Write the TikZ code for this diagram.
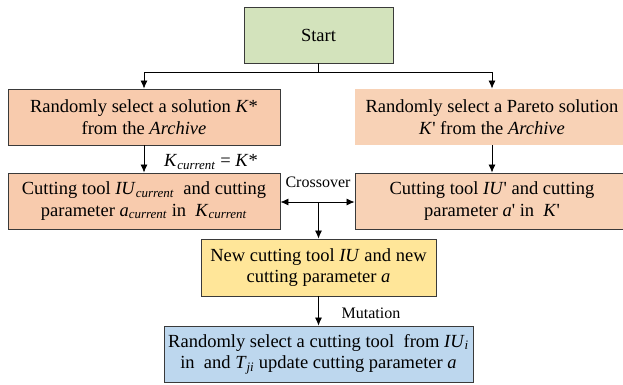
\documentclass[tikz,border=0pt]{standalone}
\usepackage{fontspec}
\setmainfont{Liberation Serif}
\usetikzlibrary{arrows.meta}
\definecolor{cgreen}{HTML}{D3E3BC}
\definecolor{cpeach}{HTML}{F8CBAD}
\definecolor{cpeachlt}{HTML}{F8D2B6}
\definecolor{cyellow}{HTML}{FFE699}
\definecolor{cblue}{HTML}{BDD7EE}
\definecolor{boxline}{HTML}{3A3A3A}
\newcommand{\sub}[1]{\textsubscript{\textit{#1}}}
\newcommand{\prm}{\textquotesingle}
\begin{document}
\begin{tikzpicture}[x=1pt,y=-1pt,
  box/.style={draw=boxline, line width=0.9pt, inner sep=0pt, align=center,
    font=\fontsize{18.5}{21.5}\selectfont},
  lbl/.style={inner sep=0pt, font=\fontsize{16}{18}\selectfont},
  arr/.style={-{Latex[length=8pt,width=7pt]}, line width=0.8pt},
  dblarr/.style={{Latex[length=8pt,width=7pt]}-{Latex[length=8pt,width=7pt]}, line width=0.8pt},
  ln/.style={line width=0.8pt}]
\useasboundingbox (0,0) rectangle (623,385);
\node[box, fill=cgreen, minimum width=149pt, minimum height=56pt] (start) at (318.5,35) {Start};
\node[box, fill=cpeach, minimum width=272pt, minimum height=56pt] (left1) at (144,117)
  {Randomly select a solution \textit{K}*\\ from the \textit{Archive}};
\node[box, draw=none, fill=cpeachlt, minimum width=274pt, minimum height=56pt] (right1) at (492,117)
  {Randomly select a Pareto solution\\ \textit{K}\prm{} from the \textit{Archive}};
\node[box, fill=cpeach, minimum width=272pt, minimum height=56pt] (left2) at (144,201)
  {Cutting tool \textit{IU}\sub{current}\ \ and cutting\\ parameter \textit{a}\sub{current} in\ \ \textit{K}\sub{current}};
\node[box, fill=cpeachlt, minimum width=274pt, minimum height=56pt] (right2) at (492,201)
  {Cutting tool \textit{IU}\prm{} and cutting\\ parameter \textit{a}\prm{} in\ \ \textit{K}\prm};
\node[box, fill=cyellow, minimum width=235pt, minimum height=57pt] (newtool) at (318.5,267.5)
  {New cutting tool \textit{IU} and new\\ cutting parameter \textit{a}};
\node[box, fill=cblue, minimum width=309pt, minimum height=56pt] (mut) at (318.5,354)
  {Randomly select a cutting tool\ \ from \textit{IU}\sub{i}\\ in\ \ and \textit{T}\sub{ji} update cutting parameter \textit{a}};
\coordinate (split) at (318.5,72);
\coordinate (cx) at (318.5,202);
\draw[ln] (start) -- (split);
\draw[arr] (split) -| (left1);
\draw[arr] (split) -| (right1);
\draw[arr] (left1) -- (left2);
\draw[arr] (right1) -- (right2);
\draw[dblarr] (left2.east |- cx) -- (right2.west |- cx);
\draw[arr] (cx) -- (newtool);
\draw[arr] (newtool) -- (mut);
\node[inner sep=0pt, font=\fontsize{18.5}{21.5}\selectfont] (klbl) at (211,162) {\textit{K}\sub{current} = \textit{K}*};
\node[lbl] (xlbl) at (318,182) {Crossover};
\node[lbl] (mlbl) at (371,313) {Mutation};
\end{tikzpicture}
\end{document}
